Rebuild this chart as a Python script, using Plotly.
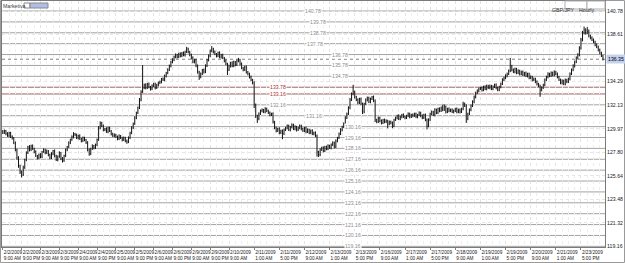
import plotly.graph_objects as go

# ---------------- data (hourly GBP/JPY bars) ----------------
first_open = 129.75
closes = [
    129.59, 129.77, 129.50, 129.31, 129.59, 129.22, 129.12, 128.67, 128.03, 127.29,
    126.56, 126.01, 125.74, 126.38, 127.11, 127.75, 128.30, 128.03, 128.39, 128.12,
    127.84, 127.48, 127.29, 127.57, 127.39, 127.84, 128.03, 127.75, 127.93, 127.57,
    127.29, 127.66, 127.93, 127.48, 127.11, 127.39, 127.75, 127.20, 127.02, 127.48,
    128.03, 128.30, 128.67, 128.95, 129.22, 129.50, 129.40, 129.12, 129.31, 129.04,
    128.85, 129.12, 128.95, 128.67, 128.03, 127.66, 128.12, 128.39, 128.21, 128.49,
    128.95, 130.04, 130.50, 130.22, 129.86, 129.95, 129.68, 130.04, 129.77, 129.50,
    129.31, 129.40, 129.22, 129.04, 129.31, 129.12, 128.95, 129.12, 128.85, 128.76,
    129.12, 129.59, 130.04, 130.41, 130.96, 131.42, 131.88, 132.61, 133.35, 133.72,
    133.99, 133.72, 134.08, 133.81, 133.62, 133.90, 134.08, 133.72, 133.99, 134.17,
    134.27, 134.54, 134.45, 134.82, 135.09, 135.37, 135.73, 136.10, 136.28, 136.56,
    136.74, 136.56, 136.83, 136.65, 136.93, 136.74, 137.02, 137.29, 137.02, 136.74,
    136.47, 136.10, 136.28, 135.73, 135.18, 134.72, 135.00, 135.37, 135.18, 135.73,
    136.28, 136.65, 137.11, 137.29, 137.02, 136.83, 136.65, 136.93, 136.56, 136.74,
    136.47, 136.19, 135.92, 135.37, 135.73, 136.01, 135.73, 136.10, 135.83, 136.19,
    136.28, 135.92, 135.55, 135.37, 135.64, 135.18, 135.00, 134.72, 134.45, 134.17,
    132.16, 131.15, 130.87, 131.33, 131.61, 131.70, 131.51, 131.79, 131.61, 131.42,
    131.24, 131.33, 130.60, 130.04, 129.77, 129.95, 129.59, 129.77, 129.50, 129.86,
    130.04, 130.22, 129.86, 130.13, 130.32, 129.95, 130.13, 129.86, 130.04, 130.22,
    129.95, 129.77, 130.04, 129.68, 129.86, 129.59, 129.77, 129.50, 129.59, 129.31,
    127.84, 127.57, 128.03, 128.21, 127.93, 128.30, 128.12, 128.39, 128.21, 128.49,
    128.67, 128.30, 128.85, 129.12, 129.50, 129.86, 130.13, 130.41, 130.96, 131.33,
    131.88, 132.61, 133.16, 133.35, 132.89, 132.61, 132.34, 132.70, 132.25, 131.51,
    132.25, 132.61, 132.80, 132.43, 132.70, 132.89, 132.52, 130.78, 130.60, 130.96,
    130.69, 130.50, 130.78, 130.60, 130.69, 130.41, 130.60, 130.50, 130.22, 130.78,
    130.96, 131.15, 130.87, 131.06, 131.24, 131.06, 130.96, 131.15, 131.33, 131.06,
    131.24, 131.15, 131.33, 131.06, 131.24, 131.42, 131.15, 130.96, 131.24, 130.78,
    130.22, 130.78, 131.33, 131.51, 131.24, 131.70, 131.42, 131.79, 131.61, 131.88,
    131.70, 131.97, 131.51, 131.79, 131.61, 131.70, 131.51, 131.61, 131.79, 131.51,
    131.70, 131.51, 131.79, 132.25, 132.07, 130.87, 131.33, 131.70, 132.07, 132.43,
    132.89, 133.26, 133.44, 133.62, 133.72, 133.53, 133.81, 133.62, 133.90, 133.72,
    133.90, 133.62, 133.81, 133.99, 133.72, 133.53, 133.81, 134.08, 134.45, 134.63,
    134.82, 135.00, 135.28, 135.73, 135.37, 135.18, 135.46, 135.09, 135.28, 135.00,
    135.18, 134.91, 135.09, 134.82, 135.00, 134.63, 134.72, 134.45, 134.54, 134.27,
    134.08, 133.90, 133.53, 133.72, 133.99, 134.45, 134.72, 135.00, 134.82, 135.09,
    134.91, 135.18, 135.00, 134.72, 134.45, 134.17, 134.36, 134.08, 134.45, 134.27,
    134.54, 135.00, 135.37, 135.73, 136.10, 136.47, 136.74, 137.39, 138.12, 138.76,
    139.04, 138.76, 138.94, 138.49, 138.30, 138.12, 137.94, 137.66, 137.48, 137.20,
    136.93, 136.65, 136.35,
]
upper_wick = [
    0.10, 0.12, 0.08, 0.15, 0.10, 0.09, 0.14, 0.08, 0.12, 0.10,
    0.15, 0.10, 0.12, 0.20, 0.10, 0.14, 0.09, 0.16, 0.11, 0.13,
    0.10, 0.14, 0.08, 0.12, 0.15, 0.09, 0.13, 0.10, 0.12, 0.08,
    0.11, 0.15, 0.09, 0.13, 0.10, 0.12, 0.14, 0.08, 0.16, 0.10,
    0.12, 0.09, 0.14, 0.10, 0.13, 0.15, 0.08, 0.12, 0.10, 0.14,
    0.09, 0.13, 0.11, 0.08, 0.15, 0.12, 0.10, 0.14, 0.09, 0.11,
    0.12, 0.18, 0.14, 0.10, 0.13, 0.09, 0.15, 0.11, 0.12, 0.08,
    0.10, 0.13, 0.09, 0.12, 0.14, 0.08, 0.11, 0.13, 0.10, 0.12,
    0.14, 0.10, 0.15, 0.12, 0.16, 0.11, 0.13, 0.18, 0.15, 2.10,
    0.12, 0.15, 0.10, 0.13, 0.09, 0.14, 0.11, 0.12, 0.10, 0.13,
    0.11, 0.09, 0.14, 0.12, 0.10, 0.15, 0.13, 0.11, 0.16, 0.12,
    0.14, 0.10, 0.12, 0.15, 0.09, 0.13, 0.11, 0.20, 0.12, 0.10,
    0.13, 0.15, 0.10, 0.12, 0.14, 0.11, 0.13, 0.09, 0.12, 0.15,
    0.10, 0.14, 0.12, 0.26, 0.11, 0.13, 0.09, 0.12, 0.15, 0.10,
    0.12, 0.09, 0.14, 0.11, 0.13, 0.10, 0.15, 0.12, 0.09, 0.14,
    0.20, 0.11, 0.13, 0.10, 0.12, 0.14, 0.09, 0.11, 0.13, 0.10,
    0.15, 0.12, 0.10, 0.14, 0.11, 0.13, 0.09, 0.15, 0.12, 0.10,
    0.13, 0.11, 0.14, 0.09, 0.12, 0.10, 0.15, 0.11, 0.13, 0.12,
    0.10, 0.14, 0.12, 0.09, 0.13, 0.11, 0.15, 0.10, 0.12, 0.14,
    0.11, 0.13, 0.09, 0.12, 0.14, 0.10, 0.12, 0.15, 0.11, 0.13,
    0.12, 0.10, 0.14, 0.11, 0.13, 0.09, 0.12, 0.15, 0.10, 0.12,
    0.14, 0.11, 0.13, 0.10, 0.12, 0.15, 0.11, 0.13, 0.16, 0.12,
    0.15, 0.18, 0.14, 0.65, 0.12, 0.10, 0.15, 0.11, 0.13, 0.12,
    0.10, 0.14, 0.12, 0.11, 0.13, 0.09, 0.12, 0.14, 0.10, 0.12,
    0.11, 0.13, 0.09, 0.12, 0.14, 0.10, 0.12, 0.11, 0.13, 0.10,
    0.12, 0.10, 0.14, 0.11, 0.09, 0.13, 0.12, 0.10, 0.14, 0.11,
    0.10, 0.13, 0.11, 0.12, 0.09, 0.14, 0.11, 0.13, 0.10, 0.12,
    0.12, 0.14, 0.11, 0.13, 0.10, 0.15, 0.12, 0.11, 0.14, 0.13,
    0.30, 0.23, 0.12, 0.10, 0.13, 0.11, 0.14, 0.12, 0.10, 0.13,
    0.11, 0.13, 0.10, 0.20, 0.12, 0.14, 0.11, 0.13, 0.12, 0.15,
    0.13, 0.11, 0.14, 0.12, 0.10, 0.13, 0.11, 0.14, 0.12, 0.10,
    0.12, 0.10, 0.13, 0.11, 0.14, 0.12, 0.10, 0.13, 0.15, 0.12,
    0.14, 0.12, 0.13, 0.74, 0.11, 0.13, 0.12, 0.10, 0.14, 0.11,
    0.12, 0.14, 0.10, 0.13, 0.11, 0.12, 0.14, 0.10, 0.13, 0.11,
    0.13, 0.10, 0.12, 0.14, 0.11, 0.13, 0.12, 0.15, 0.11, 0.14,
    0.12, 0.15, 0.11, 0.13, 0.10, 0.12, 0.14, 0.11, 0.13, 0.10,
    0.12, 0.14, 0.13, 0.15, 0.12, 0.14, 0.16, 0.15, 0.18, 0.20,
    0.31, 0.15, 0.36, 0.14, 0.12, 0.15, 0.13, 0.11, 0.14, 0.12,
    0.13, 0.11, 0.10,
]
lower_wick = [
    0.12, 0.10, 0.14, 0.09, 0.13, 0.11, 0.15, 0.12, 0.14, 0.16,
    0.18, 0.20, 0.25, 0.12, 0.10, 0.13, 0.11, 0.15, 0.12, 0.10,
    0.13, 0.11, 0.15, 0.10, 0.14, 0.12, 0.09, 0.13, 0.11, 0.14,
    0.12, 0.10, 0.13, 0.15, 0.11, 0.14, 0.09, 0.12, 0.16, 0.10,
    0.11, 0.13, 0.10, 0.12, 0.09, 0.14, 0.12, 0.11, 0.13, 0.10,
    0.14, 0.11, 0.13, 0.10, 0.15, 0.18, 0.12, 0.10, 0.14, 0.11,
    0.12, 0.10, 0.13, 0.11, 0.14, 0.12, 0.10, 0.13, 0.11, 0.15,
    0.10, 0.13, 0.11, 0.14, 0.12, 0.10, 0.15, 0.11, 0.13, 0.18,
    0.12, 0.10, 0.13, 0.11, 0.09, 0.12, 0.10, 0.11, 0.13, 0.10,
    0.12, 0.14, 0.10, 0.13, 0.15, 0.11, 0.12, 0.14, 0.10, 0.13,
    0.11, 0.13, 0.10, 0.12, 0.14, 0.11, 0.10, 0.13, 0.12, 0.10,
    0.12, 0.14, 0.10, 0.13, 0.11, 0.12, 0.14, 0.10, 0.13, 0.12,
    0.14, 0.12, 0.13, 0.11, 0.15, 0.27, 0.12, 0.10, 0.14, 0.11,
    0.10, 0.13, 0.11, 0.12, 0.14, 0.10, 0.13, 0.11, 0.12, 0.14,
    0.11, 0.13, 0.12, 0.47, 0.10, 0.14, 0.12, 0.11, 0.13, 0.10,
    0.12, 0.14, 0.11, 0.13, 0.10, 0.15, 0.12, 0.14, 0.11, 0.13,
    0.30, 0.20, 0.37, 0.12, 0.10, 0.14, 0.11, 0.13, 0.12, 0.10,
    0.13, 0.11, 0.15, 0.12, 0.14, 0.10, 0.13, 0.11, 0.50, 0.12,
    0.11, 0.13, 0.10, 0.14, 0.12, 0.11, 0.13, 0.15, 0.10, 0.12,
    0.13, 0.10, 0.12, 0.14, 0.11, 0.13, 0.10, 0.12, 0.14, 0.11,
    0.44, 0.20, 0.12, 0.10, 0.14, 0.11, 0.13, 0.12, 0.10, 0.14,
    0.12, 0.15, 0.11, 0.13, 0.10, 0.12, 0.14, 0.11, 0.13, 0.10,
    0.11, 0.13, 0.10, 0.12, 0.15, 0.11, 0.13, 0.10, 0.12, 0.20,
    0.12, 0.10, 0.14, 0.11, 0.13, 0.10, 0.12, 0.20, 0.13, 0.11,
    0.12, 0.14, 0.10, 0.13, 0.11, 0.40, 0.12, 0.13, 0.20, 0.11,
    0.10, 0.13, 0.11, 0.12, 0.14, 0.10, 0.13, 0.11, 0.12, 0.14,
    0.11, 0.13, 0.10, 0.12, 0.14, 0.11, 0.13, 0.12, 0.10, 0.13,
    0.32, 0.12, 0.10, 0.13, 0.11, 0.14, 0.12, 0.10, 0.13, 0.11,
    0.12, 0.10, 0.14, 0.11, 0.13, 0.12, 0.10, 0.14, 0.11, 0.13,
    0.12, 0.14, 0.10, 0.13, 0.11, 0.37, 0.12, 0.10, 0.13, 0.11,
    0.12, 0.14, 0.11, 0.13, 0.10, 0.15, 0.12, 0.11, 0.13, 0.10,
    0.13, 0.11, 0.12, 0.10, 0.14, 0.12, 0.11, 0.13, 0.10, 0.12,
    0.11, 0.13, 0.10, 0.12, 0.14, 0.11, 0.13, 0.12, 0.10, 0.14,
    0.12, 0.10, 0.13, 0.11, 0.14, 0.12, 0.10, 0.13, 0.11, 0.12,
    0.14, 0.11, 0.63, 0.13, 0.10, 0.12, 0.11, 0.13, 0.12, 0.10,
    0.12, 0.14, 0.11, 0.13, 0.10, 0.12, 0.14, 0.11, 0.13, 0.12,
    0.11, 0.13, 0.10, 0.12, 0.14, 0.11, 0.13, 0.12, 0.15, 0.13,
    0.12, 0.14, 0.11, 0.13, 0.12, 0.10, 0.14, 0.12, 0.11, 0.13,
    0.12, 0.10, 0.11,
]

tick_bars = [0, 12, 24, 36, 48, 60, 72, 84, 96, 108, 120, 132, 144,
             160, 176, 192, 208, 224, 240, 256, 272, 288, 304, 320, 336, 352, 368]
tick_dates = ["2/2/2009", "2/2/2009", "2/3/2009", "2/3/2009", "2/4/2009", "2/4/2009",
              "2/5/2009", "2/5/2009", "2/6/2009", "2/6/2009", "2/9/2009", "2/9/2009",
              "2/10/2009", "2/11/2009", "2/11/2009", "2/12/2009", "2/13/2009", "2/13/2009",
              "2/16/2009", "2/17/2009", "2/17/2009", "2/18/2009", "2/19/2009", "2/19/2009",
              "2/20/2009", "2/21/2009", "2/23/2009"]
tick_times = ["9:00 AM", "9:00 PM", "9:00 AM", "9:00 PM", "9:00 AM", "9:00 PM",
              "9:00 AM", "9:00 PM", "9:00 AM", "9:00 PM", "9:00 AM", "9:00 PM",
              "9:00 AM", "1:00 AM", "5:00 PM", "9:00 AM", "1:00 AM", "5:00 PM",
              "9:00 AM", "1:00 AM", "5:00 PM", "9:00 AM", "1:00 AM", "5:00 PM",
              "9:00 AM", "1:00 AM", "5:00 PM"]

price_ticks = [140.78, 138.61, 134.29, 132.13, 129.97, 127.80, 125.64, 123.48, 121.32, 119.16]
current_price = 136.35

levels_upper = [140.78, 139.78, 138.78, 137.78, 136.78, 135.78, 134.78]
levels_red = [133.78, 133.16]
levels_lower = [132.16, 131.16, 130.16, 129.16, 128.16, 127.16, 126.16,
                125.16, 124.16, 123.16, 122.16, 121.16, 120.16, 119.16]

symbol = "GBP/JPY"
period = "Hourly"
broker = "Marketiva"

# ---------------- layout/style settings ----------------
W, H = 625, 263
L, R, T, B = 2, 20, 1, 16
FONT = "Liberation Sans, Arial, sans-serif"
XFS = 4.7   # x tick label size
TFS = 5.2   # other small texts
# x position (in bar units) of the text sitting on each horizontal line
label_x = {140.78: 197.6, 139.78: 200.8, 138.78: 200.8, 137.78: 199.0,
           136.78: 214.8, 135.78: 214.8, 134.78: 214.8,
           133.78: 175.4, 133.16: 175.4, 132.16: 175.4, 131.16: 198.3}
label_x_default = 223.1

n = len(closes)
bars = list(range(n))
opens = [first_open] + closes[:-1]
highs = [max(o, c) + w for o, c, w in zip(opens, closes, upper_wick)]
lows = [min(o, c) - w for o, c, w in zip(opens, closes, lower_wick)]

fig = go.Figure()
fig.add_trace(go.Ohlc(
    x=bars, open=opens, high=highs, low=lows, close=closes,
    increasing=dict(line=dict(color="#111111", width=1)),
    decreasing=dict(line=dict(color="#111111", width=1)),
    tickwidth=0.22, hoverinfo="skip", showlegend=False,
))

shapes = []
annotations = []
for lv in levels_upper + levels_lower:
    shapes.append(dict(type="line", xref="paper", x0=0, x1=1, yref="y", y0=lv, y1=lv,
                       line=dict(color="#a3a3a3", width=1), layer="between"))
for lv in levels_red:
    shapes.append(dict(type="line", xref="paper", x0=0, x1=1, yref="y", y0=lv, y1=lv,
                       line=dict(color="#a06464", width=1), layer="between"))
for lv in levels_upper + levels_red + levels_lower:
    red = lv in levels_red
    annotations.append(dict(x=label_x.get(lv, label_x_default), y=lv, xref="x", yref="y",
                            text=f"{lv:.2f}", showarrow=False, bgcolor="white",
                            borderpad=0,
                            font=dict(family=FONT, size=TFS,
                                      color="#b03030" if red else "#8c8c8c")))

# current price dotted line + highlighted axis label
shapes.append(dict(type="line", xref="paper", x0=0, x1=1, yref="y",
                   y0=current_price, y1=current_price,
                   line=dict(color="#808080", width=1, dash="dot"), layer="between"))
annotations.append(dict(x=1, y=current_price, xref="paper", yref="y", xanchor="left",
                        xshift=1, text=f"{current_price:.2f}", showarrow=False,
                        bgcolor="#c3d1ee", borderpad=1,
                        font=dict(family=FONT, size=TFS, color="#000000")))

pw, ph = W - L - R, H - T - B
def px(xp):
    return (xp - L) / pw
def py(yp):
    return 1 - (yp - T) / ph

# broker label with small box
annotations.append(dict(x=px(1), y=py(5.5), xref="paper", yref="paper", xanchor="left",
                        yanchor="middle", text=broker, showarrow=False,
                        font=dict(family=FONT, size=TFS, color="#404040")))
shapes.append(dict(type="rect", xref="paper", yref="paper", x0=px(24), x1=px(30),
                   y0=py(8), y1=py(3), fillcolor="white",
                   line=dict(color="#8a8a8a", width=1)))
shapes.append(dict(type="rect", xref="paper", yref="paper", x0=px(30), x1=px(48),
                   y0=py(8), y1=py(3), fillcolor="#aebee6",
                   line=dict(color="#8a8a8a", width=1)))

# symbol / period cells top right
shapes.append(dict(type="rect", xref="paper", yref="paper", x0=px(565), x1=px(587),
                   y0=py(9), y1=py(1), fillcolor="white",
                   line=dict(color="#b0b0b0", width=1)))
shapes.append(dict(type="rect", xref="paper", yref="paper", x0=px(587), x1=px(605),
                   y0=py(9), y1=py(1), fillcolor="white",
                   line=dict(color="#b0b0b0", width=1)))
annotations.append(dict(x=px(576), y=py(5), xref="paper", yref="paper",
                        text=symbol, showarrow=False,
                        font=dict(family=FONT, size=TFS, color="#303030")))
annotations.append(dict(x=px(596), y=py(5), xref="paper", yref="paper",
                        text=period, showarrow=False,
                        font=dict(family=FONT, size=TFS, color="#303030")))

# outer frame of the picture
shapes.append(dict(type="rect", xref="paper", yref="paper", x0=px(0.5), x1=px(624.5),
                   y0=py(262.5), y1=py(0.5), line=dict(color="#9a9a9a", width=1),
                   fillcolor="rgba(0,0,0,0)", layer="below"))

fig.update_layout(
    width=W, height=H,
    margin=dict(l=L, r=R, t=T, b=B),
    paper_bgcolor="white", plot_bgcolor="white",
    showlegend=False,
    font=dict(family=FONT, size=TFS, color="#202020"),
    shapes=shapes, annotations=annotations,
    xaxis=dict(
        range=[-0.5, 383.3],
        tickmode="array", tickvals=tick_bars,
        ticktext=[f"{d}<br>{t}" for d, t in zip(tick_dates, tick_times)],
        tickangle=0,
        ticklabelposition="outside right",
        ticks="outside", ticklen=2, tickcolor="#808080",
        tickfont=dict(family=FONT, size=XFS, color="#202020"),
        showgrid=True, gridcolor="#e2e2e2", griddash="dot", gridwidth=1,
        minor=dict(tickmode="linear", tick0=0, dtick=4, showgrid=True,
                   gridcolor="#ededed", griddash="dot", ticks=""),
        showline=True, mirror=True, linecolor="#7a7a7a", linewidth=1,
        zeroline=False, rangeslider=dict(visible=False), fixedrange=True,
    ),
    yaxis=dict(
        side="right", range=[119.10, 141.70],
        tickmode="array", tickvals=price_ticks,
        ticktext=[f"{v:.2f}" for v in price_ticks],
        ticks="", tickfont=dict(family=FONT, size=TFS, color="#202020"),
        showgrid=True, gridcolor="#e6e6e6", griddash="dot",
        showline=True, mirror=True, linecolor="#7a7a7a", linewidth=1,
        zeroline=False, fixedrange=True,
    ),
)

fig.write_html("out.html")
